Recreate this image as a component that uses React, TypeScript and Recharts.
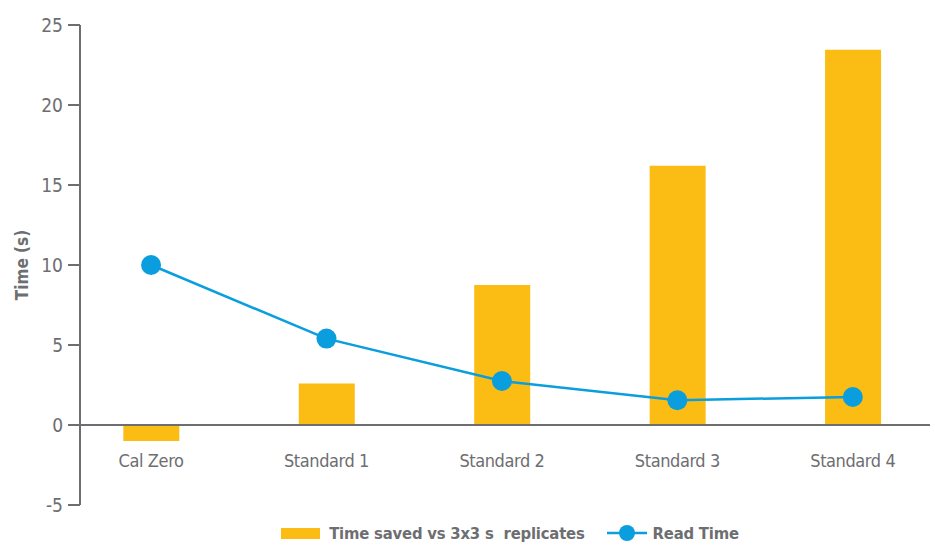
import {
  ComposedChart,
  Bar,
  Line,
  XAxis,
  YAxis,
  ReferenceLine,
  Legend,
} from "recharts";

const categories = ["Cal Zero", "Standard 1", "Standard 2", "Standard 3", "Standard 4"];
const timeSaved = [-1.0, 2.6, 8.75, 16.2, 23.45];
const readTime = [10.0, 5.4, 2.75, 1.55, 1.75];
const yTicks = [-5, 0, 5, 10, 15, 20, 25];

const GRAY = "#6d6e71";
const YELLOW = "#fbbd13";
const BLUE = "#0a9ede";
const FONT = "'Liberation Sans Narrow', 'DejaVu Sans Condensed', 'Liberation Sans', sans-serif";

const data = categories.map((name, i) => ({
  idx: i,
  name,
  saved: timeSaved[i],
  read: readTime[i],
}));

const CategoryTick = ({ x, y, payload }: any) => (
  <text
    x={x}
    y={y}
    dy={-46}
    textAnchor="middle"
    fill={GRAY}
    fontSize={18}
    letterSpacing={-0.4}
    fontFamily={FONT}
  >
    {categories[payload.value]}
  </text>
);

const YLabel = ({ viewBox }: any) => {
  const cx = viewBox.x + 22;
  const cy = viewBox.y + viewBox.height / 2;
  return (
    <text
      x={cx}
      y={cy}
      transform={`rotate(-90 ${cx} ${cy})`}
      textAnchor="middle"
      dominantBaseline="central"
      fill={GRAY}
      fontSize={17}
      fontWeight="bold"
      fontFamily={FONT}
    >
      Time (s)
    </text>
  );
};

const ChartLegend = () => (
  <div
    style={{
      display: "flex",
      alignItems: "center",
      justifyContent: "center",
      height: 20,
      paddingLeft: 90,
      paddingTop: 3,
      fontFamily: FONT,
      fontWeight: "bold",
      fontSize: 16.5,
      letterSpacing: -0.2,
      color: GRAY,
    }}
  >
    <span style={{ display: "inline-block", width: 39, height: 11, background: YELLOW, marginRight: 9 }} />
    <span style={{ whiteSpace: "pre" }}>Time saved vs 3x3 s  replicates</span>
    <svg width={40} height={20} style={{ marginLeft: 22, marginRight: 6 }}>
      <line x1={0} y1={10} x2={40} y2={10} stroke={BLUE} strokeWidth={2.5} />
      <circle cx={20} cy={10} r={8} fill={BLUE} />
    </svg>
    <span>Read Time</span>
  </div>
);

export default function App() {
  return (
    <div style={{ position: "absolute", left: 0, top: 0, width: 935, height: 546, background: "#fff" }}>
      <ComposedChart
        width={935}
        height={546}
        data={data}
        margin={{ top: 25, right: 5, left: 0, bottom: 0 }}
      >
        <XAxis
          dataKey="idx"
          type="number"
          domain={[-0.405, 4.44]}
          ticks={[0, 1, 2, 3, 4]}
          height={15}
          axisLine={false}
          tickLine={false}
          tick={<CategoryTick />}
          interval={0}
        />
        <YAxis
          width={80}
          domain={[-5, 25]}
          ticks={yTicks}
          interval={0}
          tickSize={12}
          tickMargin={5}
          axisLine={{ stroke: GRAY, strokeWidth: 2 }}
          tickLine={{ stroke: GRAY, strokeWidth: 2 }}
          tick={{ fill: GRAY, fontSize: 19, fontFamily: FONT }}
          label={<YLabel />}
        />
        <ReferenceLine y={0} stroke={GRAY} strokeWidth={2} />
        <Bar dataKey="saved" fill={YELLOW} barSize={56} isAnimationActive={false} />
        <Line
          dataKey="read"
          type="linear"
          stroke={BLUE}
          strokeWidth={2.5}
          dot={{ r: 10, fill: BLUE, stroke: "none" }}
          activeDot={false}
          isAnimationActive={false}
        />
        <Legend verticalAlign="bottom" height={26} content={<ChartLegend />} />
      </ComposedChart>
    </div>
  );
}
